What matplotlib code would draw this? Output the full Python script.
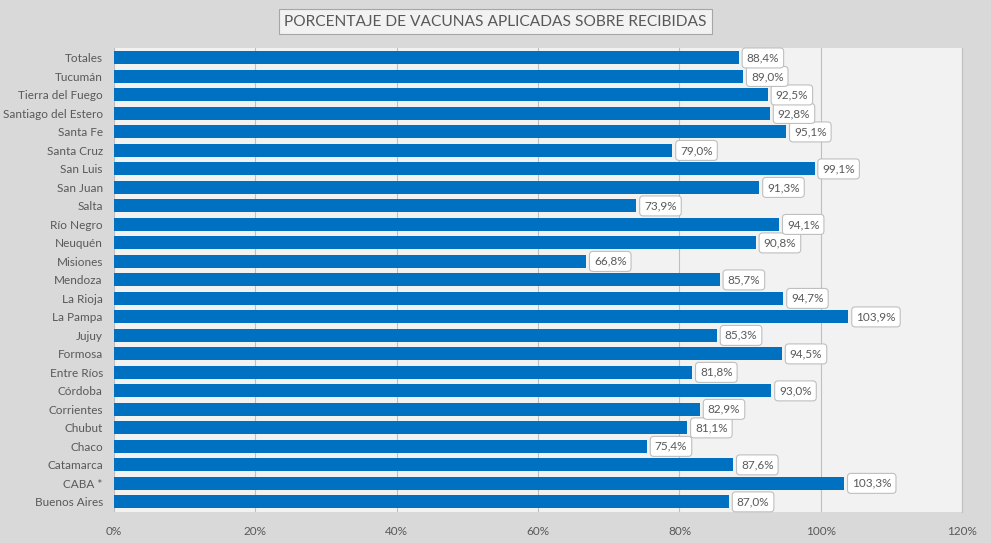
import matplotlib.pyplot as plt
from matplotlib.ticker import FuncFormatter

# Datos: porcentaje de vacunas aplicadas sobre recibidas
provincias = ['Buenos Aires', 'CABA *', 'Catamarca', 'Chaco', 'Chubut', 'Corrientes',
              'Córdoba', 'Entre Ríos', 'Formosa', 'Jujuy', 'La Pampa', 'La Rioja',
              'Mendoza', 'Misiones', 'Neuquén', 'Río Negro', 'Salta', 'San Juan',
              'San Luis', 'Santa Cruz', 'Santa Fe', 'Santiago del Estero',
              'Tierra del Fuego', 'Tucumán', 'Totales']
porcentaje = [87.0, 103.3, 87.6, 75.4, 81.1, 82.9, 93.0, 81.8, 94.5, 85.3, 103.9, 94.7,
              85.7, 66.8, 90.8, 94.1, 73.9, 91.3, 99.1, 79.0, 95.1, 92.8, 92.5, 89.0, 88.4]
ticks_x = [0, 20, 40, 60, 80, 100, 120]

plt.rcParams['font.family'] = ['Lato', 'DejaVu Sans']
gris = '#595959'

fig = plt.figure(figsize=(9.91, 5.43), dpi=100, facecolor='#D9D9D9')
ax = fig.add_axes([0.115, 0.057, 0.856, 0.855])
ax.set_facecolor('#F2F2F2')

y = range(len(provincias))
ax.barh(y, porcentaje, height=0.7, color='#0070C0', zorder=3)

for i, v in enumerate(porcentaje):
    ax.text(v + 1.1, i, f'{v:.1f}%'.replace('.', ','), va='center', ha='left',
            fontsize=8.5, color=gris, zorder=4,
            bbox=dict(boxstyle='round,pad=0.38,rounding_size=0.3', fc='white',
                      ec='#BFBFBF', lw=0.8))

ax.set_xlim(0, 120)
ax.set_ylim(-0.55, len(provincias) - 0.45)
ax.set_xticks(ticks_x)
ax.xaxis.set_major_formatter(FuncFormatter(lambda x, p: f'{x:.0f}%'))
ax.set_yticks(list(y))
ax.set_yticklabels(provincias)
ax.tick_params(axis='both', length=0, labelsize=8.5, colors=gris)
ax.tick_params(axis='x', pad=10)
ax.tick_params(axis='y', pad=8)
ax.grid(axis='x', color='#BFBFBF', lw=0.8, zorder=0)
for s in ['top', 'left', 'bottom']:
    ax.spines[s].set_visible(False)
ax.spines['right'].set_color('#BFBFBF')

fig.text(0.5, 0.96, 'PORCENTAJE DE VACUNAS APLICADAS SOBRE RECIBIDAS', ha='center',
         va='center', fontsize=11.2, color=gris,
         bbox=dict(boxstyle='square,pad=0.35', fc='#F2F2F2', ec='#A6A6A6', lw=0.8))

fig.savefig('out.png', dpi=100, facecolor=fig.get_facecolor())
